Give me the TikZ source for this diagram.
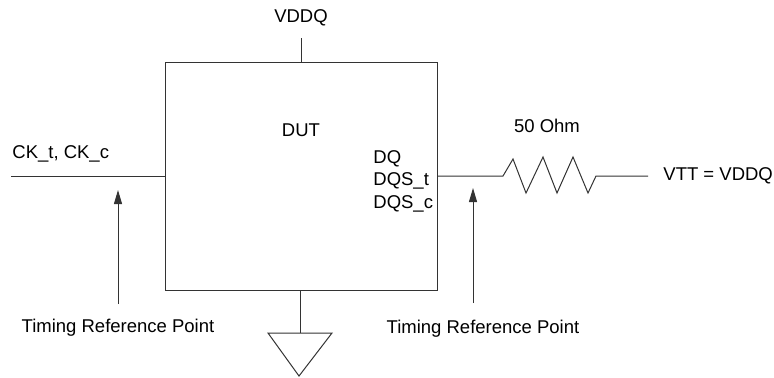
\documentclass[tikz,border=0pt]{standalone}
\usepackage{fontspec}
\setmainfont{Liberation Sans}
\usepackage{tikz}
\usetikzlibrary{arrows.meta,positioning}

\begin{document}
\begin{tikzpicture}[x=0.5pt,y=-0.5pt,
	wire/.style={draw=black!80,line width=0.5pt},
	tag/.style={inner sep=0pt,font=\fontsize{9.25}{11.25}\selectfont},
	refarrow/.style={wire,-{Triangle[length=7pt,width=4pt]}}]
	\useasboundingbox (0,0) rectangle (774,377);

	% device under test
	\node[wire,minimum width=136pt,minimum height=114pt,inner sep=0pt] (dut) at (301,176) {};
	\node[tag] (dutlabel) at (301,130) {DUT};
	\node[tag,anchor=west,align=left] (dq) at (373,181) {DQ\\DQS\_t\\DQS\_c};

	% supply and ground
	\node[tag] (vddq) at (301,18) {VDDQ};
	\coordinate (vddqpin) at (301,38);
	\draw[wire] (vddqpin) -- (vddqpin |- dut.north);
	\coordinate (gnd) at (300,333);
	\draw[wire] (gnd |- dut.south) -- (gnd);
	\draw[wire] (268,333) -- (332,333) -- (299,376) -- cycle;

	% clock input
	\node[tag,anchor=west] (ck) at (12,154) {CK\_t, CK\_c};
	\coordinate (ckin) at (11,176);
	\draw[wire] (ckin) -- (dut.west);

	% termination
	\coordinate (ra) at (503,176);
	\coordinate (rb) at (596,176);
	\coordinate (vttpin) at (648,176);
	\draw[wire] (dut.east) -- (ra) -- (513,159) -- (526,193) -- (543,157) -- (557,193)
		-- (573,157) -- (588,193) -- (rb) -- (vttpin);
	\node[tag] (ohm) at (547,126) {50 Ohm};
	\node[tag,anchor=west] (vtt) at (663,176) {VTT = VDDQ};

	% timing reference points
	\node[tag] (trpleft) at (118,328) {Timing Reference Point};
	\coordinate (tailleft) at (118,304);
	\draw[refarrow] (tailleft) -- (118,190);
	\node[tag] (trpright) at (483,329) {Timing Reference Point};
	\coordinate (tailright) at (473,303);
	\draw[refarrow] (tailright) -- (473,188);
\end{tikzpicture}
\end{document}
